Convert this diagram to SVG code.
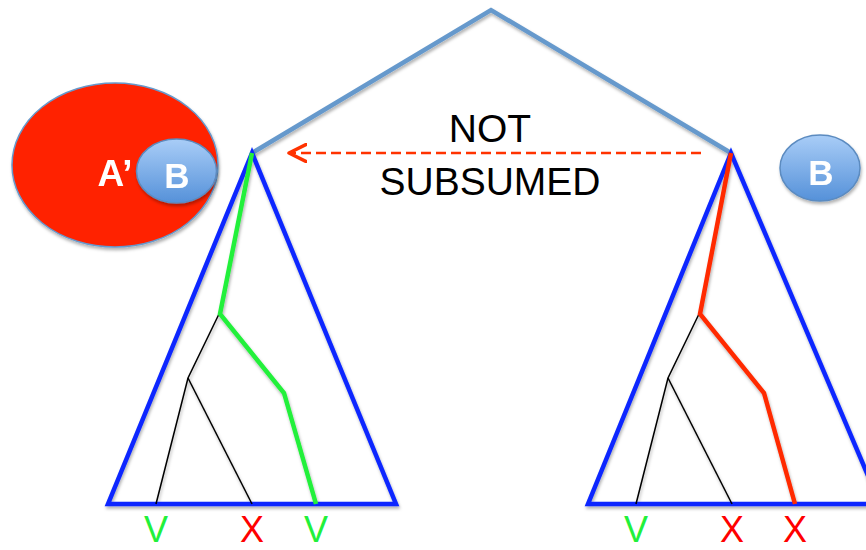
<svg xmlns="http://www.w3.org/2000/svg" width="866" height="550" viewBox="0 0 866 550">
<style>
.tri{fill:none;stroke:#0A28FF;stroke-width:4.5;stroke-linejoin:miter}
.top{fill:none;stroke:#6699CC;stroke-width:4.5}
.blk{fill:none;stroke:#000;stroke-width:1.5}
.grn{fill:none;stroke:#22F03A;stroke-width:4.5}
.red{fill:none;stroke:#FF2A00;stroke-width:4.5}
.lbl{font-family:"Liberation Sans",Arial,sans-serif;font-size:36px;text-anchor:middle}
.wht{font-family:"Liberation Sans",Arial,sans-serif;font-weight:bold;fill:#fff;text-anchor:middle}
.big{font-family:"Liberation Sans",Arial,sans-serif;font-size:39px;fill:#000;text-anchor:middle}
</style>
<defs>
<filter id="sh" x="-10%" y="-10%" width="130%" height="130%">
<feDropShadow dx="1" dy="2.5" stdDeviation="1.5" flood-color="#000" flood-opacity="0.3"/>
</filter>
<linearGradient id="bg" x1="0" y1="0" x2="0" y2="1">
<stop offset="0" stop-color="#A9CDF7"/>
<stop offset="1" stop-color="#5591D9"/>
</linearGradient>
<marker id="ah" viewBox="0 0 20 20" refX="18" refY="10" markerWidth="20" markerHeight="20" markerUnits="userSpaceOnUse" orient="auto">
<path d="M0,1 L18,10 L0,19" fill="none" stroke="#FF3300" stroke-width="3.5" stroke-linecap="round" stroke-linejoin="round"/>
</marker>
</defs>
<g id="tree-top" filter="url(#sh)">
<polyline class="top" points="252,153 491,10 731,153"/>
</g>
<g id="left-tree" filter="url(#sh)">
<polygon class="tri" points="252,153 108,504 396,504"/>
<polyline class="blk" points="219,314 188,378 156,504"/>
<line class="blk" x1="188" y1="378" x2="252" y2="504"/>
<polyline class="grn" points="252,153 220,314 284,393 316,504"/>
</g>
<g id="right-tree" filter="url(#sh)">
<polygon class="tri" points="731,153 588,504 880,504"/>
<polyline class="blk" points="699,314 668,378 636,504"/>
<line class="blk" x1="668" y1="378" x2="732" y2="504"/>
<polyline class="red" points="731,153 700,314 764,393 795,504"/>
</g>
<g id="left-labels">
<text class="lbl" x="156" y="542" fill="#22F03A">V</text>
<text class="lbl" x="252" y="542" fill="#FF0000">X</text>
<text class="lbl" x="316" y="542" fill="#22F03A">V</text>
</g>
<g id="right-labels">
<text class="lbl" x="636" y="542" fill="#22F03A">V</text>
<text class="lbl" x="732" y="542" fill="#FF0000">X</text>
<text class="lbl" x="795" y="542" fill="#FF0000">X</text>
</g>
<g id="set-a" filter="url(#sh)">
<ellipse cx="115" cy="165" rx="103" ry="82" fill="#FF2200" stroke="#6699CC" stroke-width="1.5"/>
<text class="wht" x="115" y="186" font-size="37">A’</text>
</g>
<g id="set-b-left" filter="url(#sh)">
<ellipse cx="176.5" cy="171" rx="40" ry="32" fill="url(#bg)" stroke="#5B8BC0" stroke-width="1.5"/>
<text class="wht" x="177" y="188" font-size="35">B</text>
</g>
<g id="set-b-right" filter="url(#sh)">
<ellipse cx="820" cy="168" rx="40" ry="33" fill="url(#bg)" stroke="#5B8BC0" stroke-width="1.5"/>
<text class="wht" x="821" y="185" font-size="35">B</text>
</g>
<g id="connectors">
<line x1="701" y1="153" x2="289" y2="153" stroke="#FF3300" stroke-width="2.5" stroke-dasharray="10,5" marker-end="url(#ah)"/>
</g>
<g id="label">
<text class="big" x="490" y="142">NOT</text>
<text class="big" x="490" y="195">SUBSUMED</text>
</g>
</svg>
